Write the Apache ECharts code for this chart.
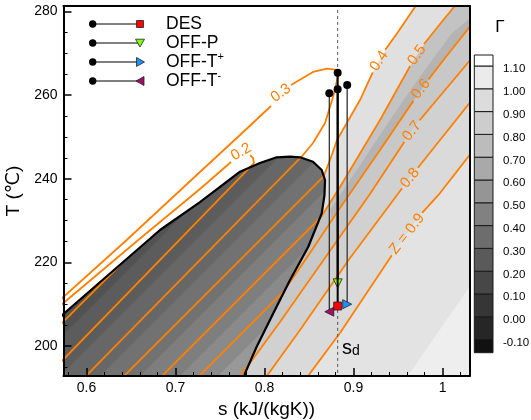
<!DOCTYPE html>
<html>
<head>
<meta charset="utf-8">
<script src="https://cdn.jsdelivr.net/npm/echarts@6.0.0/dist/echarts.min.js"></script>
<style>
  html, body { margin: 0; padding: 0; background: #fff; }
  #chart { width: 531px; height: 420px; }
</style>
</head>
<body>
<div id="chart"></div>
<script>
// 坐标轴范围与刻度
const sMin = 0.5742, sMax = 1.0303
const tMin = 192.86, tMax = 281.27
const sTicks = [0.6, 0.7, 0.8, 0.9, 1.0]
const sMinorTicks = [0.58, 0.62, 0.64, 0.66, 0.68, 0.72, 0.74, 0.76, 0.78, 0.82, 0.84, 0.86, 0.88, 0.92, 0.94, 0.96, 0.98, 1.02]
const tTicks = [200, 220, 240, 260, 280]
const tMinorTicks = [195, 205, 210, 215, 225, 230, 235, 245, 250, 255, 265, 270, 275]
const gammaLevels = [-0.1, 0, 0.1, 0.2, 0.3, 0.4, 0.5, 0.6, 0.7, 0.8, 0.9, 1.0, 1.1]
const gammaColors = ['#111111', '#262626', '#363636', '#474747', '#5a5a5a', '#6d6d6d', '#818181',
  '#959595', '#a9a9a9', '#bcbcbc', '#cdcdcd', '#dcdcdc', '#ebebeb', '#ffffff']

// 饱和线 (s, T)
const dome = [[0.5702, 206.71], [0.5747, 207.79], [0.6264, 217.35], [0.6826, 227.74], [0.7275, 234.43],
  [0.7725, 241.67], [0.7949, 243.75], [0.8137, 245.11], [0.8287, 245.30], [0.8399, 245.11],
  [0.8545, 244.06], [0.8643, 242.08], [0.8680, 239.69], [0.8674, 236.10], [0.8643, 231.73],
  [0.8492, 223.75], [0.8287, 215.79], [0.8099, 207.83], [0.7912, 199.86], [0.7781, 193.50], [0.7770, 191.90]]

// 两相区内 Γ 色带 (两端 s，对应 domeBandT)
const domeBandT = [187.12, 249.25]
const domeBandEdges = [[0.4590, 0.7511], [0.5006, 0.7927], [0.5433, 0.8354], [0.5882, 0.8803],
  [0.6331, 0.9253], [0.6781, 0.9702], [0.7208, 1.0129], [0.7511, 1.0433]]
const domeBandColors = ['#484848', '#525252', '#5c5c5c', '#676767', '#727272', '#7e7e7e', '#8a8a8a', '#989898', '#a8a8a8']

// 等 Z 线 (null = 标签处断开)
const z01 = [[0.5702, 205.04], [0.6376, 219.38]]
const z02 = [[0.5702, 209.58], [0.6582, 225.35], [0.7275, 237.54], [0.7624, 244.00], null,
  [0.7837, 245.66], [0.7871, 244.94], [0.7882, 243.75], [0.5702, 195.96]]
const z03 = [[0.5702, 211.01], [0.6452, 225.35], [0.7275, 241.60], [0.7725, 250.44], [0.8073, 257.37], null,
  [0.8298, 262.39], [0.8545, 265.50], [0.8702, 266.33], [0.8792, 266.09], [0.8826, 265.26], [0.8811, 263.11],
  [0.8770, 259.52], [0.8680, 253.31], [0.8545, 248.53], [0.8433, 245.66], [0.5972, 192.37]]
const z04 = [[0.6399, 192.37], [0.8663, 240.52], [0.8736, 244.47], [0.8815, 249.25], [0.9073, 258.80],
  [0.9216, 265.42], null, [0.9357, 270.82], [0.9500, 275.05], [0.9713, 281.74]]
const z05 = [[0.6826, 192.37], [0.8635, 230.85], [0.8848, 238.02], [0.9298, 254.03], [0.9636, 266.93], null,
  [0.9792, 272.19], [0.9972, 276.97], [1.0174, 282.22]]
const z06 = [[0.7244, 192.37], [0.8219, 213.16], [0.8511, 222.25], [0.8848, 233.00], [0.9298, 246.86],
  [0.9674, 258.66], null, [0.9843, 263.73], [1.0028, 268.84], [1.0331, 276.97]]
const z07 = [[0.7697, 192.37], [0.7837, 195.96], [0.8174, 205.76], [0.8624, 219.38], [0.9185, 236.34],
  [0.9572, 248.86], null, [0.9742, 253.93], [0.9972, 259.76], [1.0331, 268.84]]
const z08 = [[0.7994, 191.90], [0.8399, 203.85], [0.8961, 221.05], [0.9546, 237.71], null,
  [0.9724, 242.63], [0.9972, 249.25], [1.0331, 258.80]]
const z09 = [[0.8455, 191.90], [0.8848, 203.13], [0.9431, 221.72], null,
  [0.9771, 231.85], [0.9972, 236.58], [1.0331, 246.38]]

const zLabels = ['0.2', '0.3', '0.4', '0.5', '0.6', '0.7', '0.8', 'Z = 0.9']
const zLabelPos = [[0.7737, 246.38], [0.8185, 260.48], [0.9287, 268.12], [0.9713, 269.56],
  [0.9758, 261.43], [0.9657, 251.40], [0.9635, 240.17], [0.9601, 226.79]]
const zLabelAngle = [30, 36, 56, 54, 52, 52, 50, 52]

// 过热区 Γ 色带
const vaporCorner = [1.2, 300]
const vaporCore = [[0.8736, 232.52], [0.8961, 239.69], [0.9185, 246.86], [0.9433, 254.74], [0.9657, 261.67],
  [0.9882, 268.36], [1.0107, 274.81], [1.0365, 279.35], [1.0365, 274.10], [1.0051, 268.36], [0.9770, 260.72],
  [0.9545, 254.03], [0.9331, 247.33], [0.9096, 240.17], [0.8882, 233.48], [0.8758, 229.65]]
const vaporLight = [[0.9579, 191.90], [1.0331, 215.08], [1.0421, 215.08], [1.0421, 191.90]]

// 工况点
const legendNames = ['DES', 'OFF-P', 'OFF-T+', 'OFF-T-']
const stateS = [0.8822, 0.8822, 0.8929, 0.8728]
const stateTtop = [265.33, 261.36, 262.39, 260.41]
const stateTbot = [209.58, 215.00, 210.02, 208.22]
const sDesign = 0.8822

const ORANGE = '#ff8000'
const FONT = 'Liberation Sans, Arial, DejaVu Sans, sans-serif'

const chart = echarts.init(document.getElementById('chart'), null, { renderer: 'canvas' })

function clean (line) {
  return line.filter(p => p)
}
function gapData (line) {
  return line.map(p => (p ? p : ['-', '-']))
}
function poly (api, pts, fill) {
  return { type: 'polygon', shape: { points: pts.map(p => api.coord(p)) }, style: { fill: fill } }
}

const vaporBands = [
  [z04, z05, '#e0e0e0'],
  [z05, z06, '#c3c3c3'],
  [z06, z07, '#c8c8c8'],
  [z07, z08, '#d1d1d1'],
  [z08, z09, '#dadada']
]

const zLines = [z01, z02, z03, z04, z05, z06, z07, z08, z09]

const markerSymbol = ['rect', 'triangle', 'triangle', 'triangle']
const markerRotate = [0, 180, -90, 90]
const markerColor = ['#ff0000', '#80ff00', '#1e90ff', '#a0106a']
const stemColor = ['#000', '#000', '#4a4a4a', '#222']
const stemWidth = [2, 2, 1.5, 1.2]

const series = []

// 过热区色带
series.push({
  type: 'custom',
  xAxisIndex: 0,
  yAxisIndex: 0,
  clip: true,
  silent: true,
  z: 1,
  data: [[sMin, tMin]],
  renderItem (params, api) {
    const children = []
    vaporBands.forEach(b => {
      const pts = clean(b[0]).concat([vaporCorner], clean(b[1]).reverse())
      children.push(poly(api, pts, b[2]))
      if (b[0] === z05) {
        children.push(poly(api, vaporCore, '#b4b4b4'))
      }
    })
    const last = clean(z09).concat([[1.2, 260], [1.2, 180]])
    children.push(poly(api, last, '#e3e3e3'))
    children.push(poly(api, vaporLight, '#eeeeee'))
    return { type: 'group', children: children }
  }
})

// 两相区色带（裁剪到饱和线内）
series.push({
  type: 'custom',
  xAxisIndex: 0,
  yAxisIndex: 0,
  clip: true,
  silent: true,
  z: 2,
  data: [[sMin, tMin]],
  renderItem (params, api) {
    const outline = dome.concat([[0.5702, 191.90]])
    const children = [poly(api, outline, domeBandColors[0])]
    domeBandEdges.forEach((e, i) => {
      const pts = [[e[0], domeBandT[0]], [e[1], domeBandT[1]], [2, domeBandT[1]], [2, domeBandT[0]]]
      children.push(poly(api, pts, domeBandColors[i + 1]))
    })
    return {
      type: 'group',
      clipPath: { type: 'polygon', shape: { points: outline.map(p => api.coord(p)) } },
      children: children
    }
  }
})

// 等 Z 线
zLines.forEach(line => {
  series.push({
    type: 'line',
    xAxisIndex: 0,
    yAxisIndex: 0,
    data: gapData(line),
    symbol: 'none',
    connectNulls: false,
    silent: true,
    z: 3,
    lineStyle: { color: ORANGE, width: 1.8 }
  })
})

// 饱和线
series.push({
  type: 'line',
  xAxisIndex: 0,
  yAxisIndex: 0,
  data: dome,
  symbol: 'none',
  silent: true,
  z: 4,
  lineStyle: { color: '#000', width: 2.2 }
})

// s_d 虚线
series.push({
  type: 'line',
  xAxisIndex: 0,
  yAxisIndex: 0,
  data: [[sDesign, 185], [sDesign, 290]],
  symbol: 'none',
  silent: true,
  z: 5,
  lineStyle: { color: '#555', width: 1, type: [3, 3] }
})

// 工况线
legendNames.forEach((name, i) => {
  series.push({
    type: 'line',
    name: name,
    xAxisIndex: 0,
    yAxisIndex: 0,
    silent: true,
    z: 6 + (i === 0 ? 1 : 0),
    showSymbol: true,
    lineStyle: { color: stemColor[i], width: stemWidth[i] },
    data: [
      { value: [stateS[i], stateTtop[i]], symbol: 'circle', symbolSize: 8, itemStyle: { color: '#000' } },
      {
        value: [stateS[i], stateTbot[i]],
        symbol: markerSymbol[i],
        symbolSize: i === 0 ? 8 : 9,
        symbolRotate: markerRotate[i],
        itemStyle: { color: markerColor[i], borderColor: '#222', borderWidth: 0.8 }
      }
    ]
  })
})

// Z 标签
series.push({
  type: 'custom',
  xAxisIndex: 0,
  yAxisIndex: 0,
  silent: true,
  z: 8,
  data: zLabelPos,
  renderItem (params, api) {
    const p = api.coord([api.value(0), api.value(1)])
    return {
      type: 'text',
      x: p[0],
      y: p[1],
      rotation: zLabelAngle[params.dataIndex] * Math.PI / 180,
      style: {
        text: zLabels[params.dataIndex],
        fill: ORANGE,
        fontSize: 15,
        fontFamily: FONT,
        align: 'center',
        verticalAlign: 'middle'
      }
    }
  }
})

// 色标
const cbMin = -0.1575, cbMax = 1.1482
const cbLabelShift = 0.0145
const cbBins = []
for (let i = 0; i <= gammaLevels.length; i++) {
  const lo = i === 0 ? cbMin : gammaLevels[i - 1]
  const hi = i === gammaLevels.length ? cbMax : gammaLevels[i]
  cbBins.push([lo, hi])
}
series.push({
  type: 'custom',
  xAxisIndex: 3,
  yAxisIndex: 3,
  silent: true,
  z: 2,
  data: cbBins,
  renderItem (params, api) {
    const a = api.coord([0, api.value(1)])
    const b = api.coord([1, api.value(0)])
    return {
      type: 'rect',
      shape: { x: a[0], y: a[1], width: b[0] - a[0], height: b[1] - a[1] },
      style: { fill: gammaColors[params.dataIndex], stroke: '#1a1a1a', lineWidth: 1 }
    }
  }
})

// 图例
const legendRows = [24, 43, 62, 81]
const graphics = []
legendRows.forEach((y, i) => {
  graphics.push({ type: 'line', shape: { x1: 92.7, y1: y, x2: 139, y2: y }, style: { stroke: '#000', lineWidth: 1 }, z: 100 })
  graphics.push({ type: 'circle', shape: { cx: 92.7, cy: y, r: 3.7 }, style: { fill: '#000' }, z: 100 })
  let mk
  if (i === 0) {
    mk = { type: 'rect', shape: { x: 136.5, y: y - 3.5, width: 7, height: 7 } }
  } else if (i === 1) {
    mk = { type: 'polygon', shape: { points: [[135.5, y - 3.8], [144.5, y - 3.8], [140, y + 4]] } }
  } else if (i === 2) {
    mk = { type: 'polygon', shape: { points: [[136.5, y - 4.5], [136.5, y + 4.5], [144.5, y]] } }
  } else {
    mk = { type: 'polygon', shape: { points: [[144, y - 4.5], [144, y + 4.5], [136, y]] } }
  }
  mk.style = { fill: markerColor[i], stroke: '#222', lineWidth: 0.8 }
  mk.z = 101
  graphics.push(mk)
  const base = legendNames[i].replace(/[+-]$/, '')
  const sup = i >= 2 ? legendNames[i].slice(-1) : ''
  graphics.push({
    type: 'text',
    x: 166,
    y: y,
    z: 101,
    style: {
      text: sup ? '{a|' + base + '}{b|' + sup + '}' : '{a|' + base + '}',
      verticalAlign: 'middle',
      fill: '#000',
      fontFamily: FONT,
      rich: {
        a: { fontSize: 17.5, fontFamily: FONT, lineHeight: 21 },
        b: { fontSize: 11, fontFamily: FONT, lineHeight: 21, verticalAlign: 'top' }
      }
    }
  })
})
graphics.push({
  type: 'text',
  x: 500,
  y: 27,
  z: 101,
  style: { text: 'Γ', fontSize: 17, fontFamily: FONT, fill: '#000', align: 'center', verticalAlign: 'middle' }
})
graphics.push({
  type: 'text',
  x: 342,
  y: 338,
  z: 101,
  style: {
    text: '{s|s}{d|d}',
    fill: '#000',
    fontFamily: FONT,
    rich: {
      s: { fontSize: 20, fontFamily: FONT, lineHeight: 20 },
      d: { fontSize: 14, fontFamily: FONT, lineHeight: 20, verticalAlign: 'bottom' }
    }
  }
})

const axisBlack = { color: '#000', width: 2 }
const option = {
  animation: false,
  backgroundColor: '#fff',
  textStyle: { fontFamily: FONT },
  grid: [
    { left: 63.5, top: 6, width: 406, height: 370, show: true, backgroundColor: '#fff', borderWidth: 0, outerBoundsMode: 'none', containLabel: false },
    { left: 474.3, top: 55, width: 18.7, height: 297.7, outerBoundsMode: 'none', containLabel: false }
  ],
  xAxis: [
    {
      gridIndex: 0, type: 'value', min: sMin, max: sMax, position: 'bottom', z: 20,
      axisLine: { lineStyle: axisBlack },
      axisTick: { inside: true, length: 8, customValues: sTicks, lineStyle: { color: '#000', width: 1.5 } },
      axisLabel: { customValues: sTicks, formatter: v => String(Number(v.toFixed(2))), fontSize: 14, color: '#000', margin: 5 },
      splitLine: { show: false },
      name: 's (kJ/(kgK))', nameLocation: 'middle', nameGap: 23,
      nameTextStyle: { fontSize: 19, color: '#000' }
    },
    {
      gridIndex: 0, type: 'value', min: sMin, max: sMax, position: 'bottom', z: 20,
      axisLine: { show: false },
      axisTick: { inside: true, length: 4, customValues: sMinorTicks, lineStyle: { color: '#000', width: 1 } },
      axisLabel: { show: false },
      splitLine: { show: false }
    },
    {
      gridIndex: 0, type: 'value', min: sMin, max: sMax, position: 'top', z: 20,
      axisLine: { lineStyle: axisBlack },
      axisTick: { show: false }, axisLabel: { show: false }, splitLine: { show: false }
    },
    { gridIndex: 1, type: 'value', min: 0, max: 1, show: false }
  ],
  yAxis: [
    {
      gridIndex: 0, type: 'value', min: tMin, max: tMax, position: 'left', z: 20,
      axisLine: { lineStyle: axisBlack },
      axisTick: { inside: true, length: 8, customValues: tTicks, lineStyle: { color: '#000', width: 1.5 } },
      axisLabel: { customValues: tTicks, fontSize: 14, color: '#000', margin: 6 },
      splitLine: { show: false },
      name: 'T (℃)', nameLocation: 'middle', nameGap: 36,
      nameTextStyle: { fontSize: 19, color: '#000' }
    },
    {
      gridIndex: 0, type: 'value', min: tMin, max: tMax, position: 'left', z: 20,
      axisLine: { show: false },
      axisTick: { inside: true, length: 4, customValues: tMinorTicks, lineStyle: { color: '#000', width: 1 } },
      axisLabel: { show: false },
      splitLine: { show: false }
    },
    {
      gridIndex: 0, type: 'value', min: tMin, max: tMax, position: 'right', z: 20,
      axisLine: { lineStyle: axisBlack },
      axisTick: { show: false }, axisLabel: { show: false }, splitLine: { show: false }
    },
    {
      gridIndex: 1, type: 'value', min: cbMin, max: cbMax, position: 'right', show: false
    },
    {
      gridIndex: 1, type: 'value', min: cbMin + cbLabelShift, max: cbMax + cbLabelShift, position: 'right',
      axisLine: { show: false }, axisTick: { show: false }, splitLine: { show: false },
      axisLabel: {
        customValues: gammaLevels, formatter: v => v.toFixed(2),
        fontSize: 11.5, color: '#000', margin: 10
      }
    }
  ],
  graphic: graphics,
  series: series
}
chart.setOption(option)
</script>
</body>
</html>
